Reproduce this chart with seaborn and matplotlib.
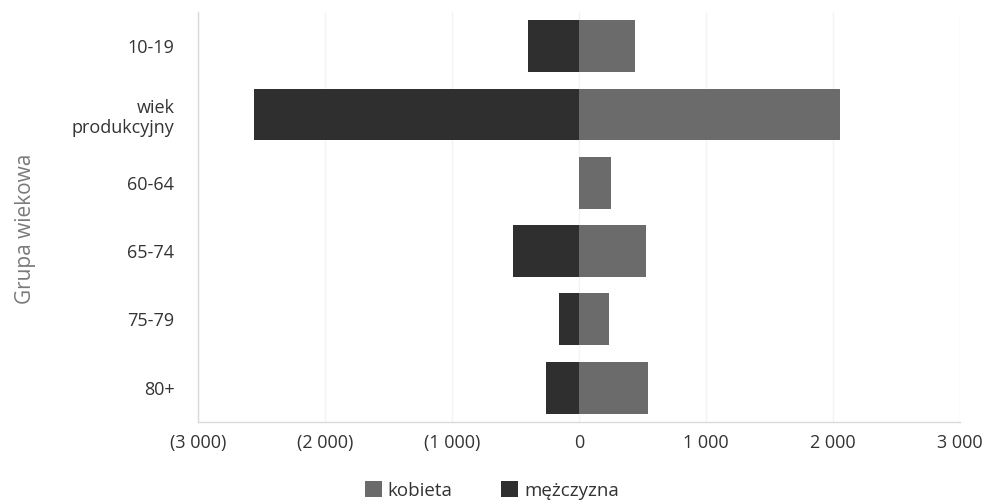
import matplotlib
matplotlib.use("Agg")
import matplotlib.pyplot as plt
import matplotlib.ticker as mticker
from matplotlib.patches import Patch
import seaborn as sns
import pandas as pd

groups = ["10-19", "wiek\nprodukcyjny", "60-64", "65-74", "75-79", "80+"]
kobieta = [440, 2055, 250, 530, 235, 540]
mezczyzna = [400, 2560, 0, 520, 160, 260]
series_names = ["kobieta", "mężczyzna"]
xticks = [-3000, -2000, -1000, 0, 1000, 2000, 3000]

rows = []
for g, k, m in zip(groups, kobieta, mezczyzna):
    rows.append({"grupa": g, "wartosc": k, "plec": series_names[0]})
    rows.append({"grupa": g, "wartosc": -m, "plec": series_names[1]})
df = pd.DataFrame(rows)

sns.set_theme(style="white")
plt.rcParams["font.family"] = ["Open Sans", "DejaVu Sans"]

colors = {"kobieta": "#6b6b6b", "mężczyzna": "#2f2f2f"}
text_c = "#333333"

fig = plt.figure(figsize=(9.9, 5.04), dpi=100)
ax = fig.add_axes([0.200, 0.163, 0.770, 0.813])

sns.barplot(data=df, x="wartosc", y="grupa", hue="plec", order=groups,
            hue_order=series_names, palette=colors, dodge=False,
            width=0.76, orient="h", ax=ax, legend=False, saturation=1,
            linewidth=0)

ax.set_xlim(-3000, 3000)
ax.set_ylim(5.5, -0.5)
ax.set_xticks(xticks)
ax.set_yticks(range(len(groups)), labels=groups, multialignment="right")

def fmt(v, pos):
    s = f"{abs(int(round(v))):,}".replace(",", " ")
    return f"({s})" if v < 0 else s

ax.xaxis.set_major_formatter(mticker.FuncFormatter(fmt))
ax.grid(axis="x", color="#f3f3f3", linewidth=1)
ax.set_axisbelow(True)
for side in ["top", "right"]:
    ax.spines[side].set_visible(False)
for side in ["left", "bottom"]:
    ax.spines[side].set_color("#dadada")
    ax.spines[side].set_linewidth(1)

ax.tick_params(axis="both", length=0, labelsize=13, labelcolor=text_c)
ax.tick_params(axis="x", pad=9)
ax.tick_params(axis="y", pad=17)
ax.set_xlabel("")
ax.set_ylabel("Grupa wiekowa", fontsize=15, color="#7a7a7a")
ax.yaxis.set_label_coords(-0.213, 0.47)

handles = [Patch(facecolor=colors[n], edgecolor="none", label=n) for n in series_names]
fig.legend(handles=handles, loc="lower center", bbox_to_anchor=(0.497, -0.025),
           ncol=2, frameon=False, fontsize=13.5, handlelength=0.9,
           handleheight=0.9, handletextpad=0.3, columnspacing=2.6,
           labelcolor=text_c)

fig.savefig("out.png", dpi=100, facecolor="white")
